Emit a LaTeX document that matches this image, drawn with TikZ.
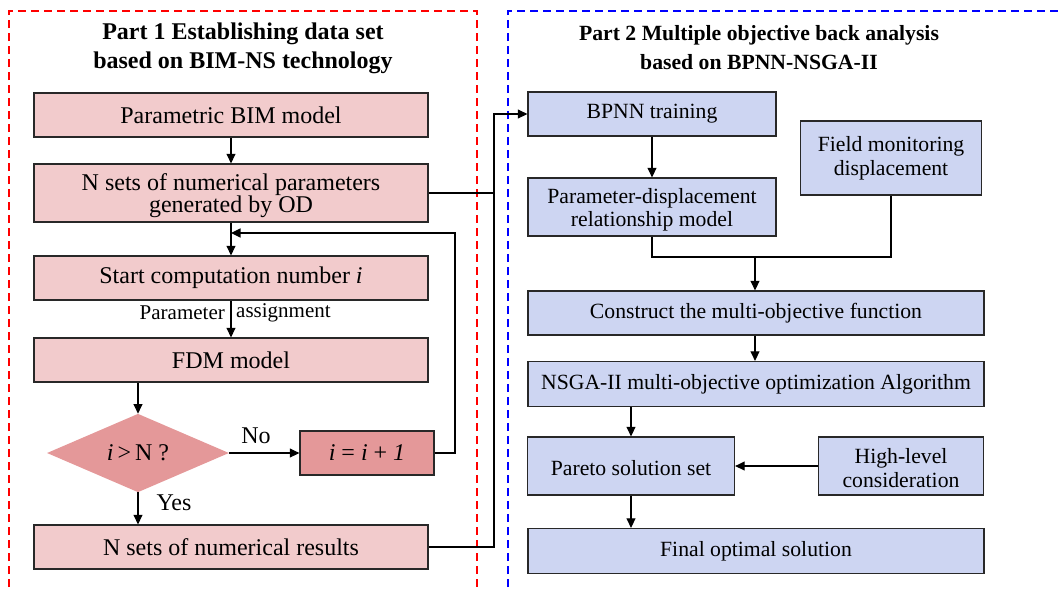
\documentclass[tikz,border=0pt]{standalone}
\usepackage{fontspec}
\setmainfont{Liberation Serif}
\usetikzlibrary{arrows.meta,shapes.geometric}
\definecolor{pinkfill}{RGB}{242,203,204}
\definecolor{darkpink}{RGB}{228,152,153}
\definecolor{bluefill}{RGB}{205,213,242}
\definecolor{edge}{RGB}{40,40,40}
\begin{document}
\begin{tikzpicture}[x=1pt,y=-1pt,
  every node/.style={inner sep=0pt},
  lfont/.style={font=\fontsize{24}{22}\selectfont},
  rfont/.style={font=\fontsize{21.7}{23}\selectfont},
  boxbase/.style={draw=edge, line width=1.3pt, align=center, minimum width=#1},
  pbox/.style={boxbase=#1, fill=pinkfill, lfont},
  dbox/.style={boxbase=#1, fill=darkpink, lfont},
  bbox/.style={boxbase=#1, fill=bluefill, rfont},
  arr/.style={draw=black, line width=1.1pt, -{Triangle[length=9.5pt,width=9pt]}},
  ln/.style={draw=black, line width=1.1pt},
  title/.style={align=center},
  small/.style={font=\fontsize{21}{21}\selectfont}
]
\useasboundingbox (0,0) rectangle (1059,590);
% dashed frames
\draw[red, line width=1.8pt, dash pattern=on 8pt off 5pt] (9,600) -- (9,11) -- (477,11) -- (477,600);
\draw[blue, line width=1.8pt, dash pattern=on 8pt off 5pt] (508,600) -- (508,11) -- (1070,11);
% titles
\node[title, font=\fontsize{24}{29}\selectfont\bfseries] (t1) at (243,48) {Part 1 Establishing data set\\based on BIM-NS technology};
\node[title, font=\fontsize{21.7}{29}\selectfont\bfseries] (t2) at (759,48) {Part 2 Multiple objective back analysis\\based on BPNN-NSGA-II};
% part 1
\node[pbox=394pt, minimum height=44pt] (p1) at (231,115) {Parametric BIM model};
\node[pbox=394pt, minimum height=58pt] (p2) at (231,193) {\rule{0pt}{22pt}N sets of numerical parameters\\generated by OD};
\node[pbox=394pt, minimum height=44pt] (p3) at (231,278) {Start computation number \textit{i}};
\node[pbox=394pt, minimum height=44pt] (p4) at (231,360) {FDM model};
\node[diamond, draw=none, fill=darkpink, minimum width=182pt, minimum height=73pt, lfont] (dia) at (138,453) {\textit{i}\,>\,N ?};
\node[dbox=134pt, minimum height=44pt] (inc) at (367,453) {\textit{i} = \textit{i} + \textit{1}};
\node[pbox=394pt, minimum height=44pt] (p5) at (231,547) {N sets of numerical results};
% part 2
\node[bbox=248pt, minimum height=44pt] (b1) at (652,114) {BPNN training};
\node[bbox=248pt, minimum height=58pt] (b2) at (652,207) {\rule{0pt}{21pt}Parameter-displacement\\relationship model};
\node[bbox=181pt, minimum height=74pt, font=\fontsize{21.7}{24}\selectfont] (fm) at (891,158) {Field monitoring\\displacement};
\node[bbox=456pt, minimum height=44pt] (b3) at (756,313) {Construct the multi-objective function};
\node[bbox=456pt, minimum height=45pt] (b4) at (756,384) {NSGA-II multi-objective optimization Algorithm};
\node[bbox=207pt, minimum height=58pt] (par) at (631,466) {\rule{0pt}{19pt}Pareto solution set};
\node[bbox=165pt, minimum height=58pt, font=\fontsize{21.7}{24}\selectfont] (hl) at (901,466) {\rule{0pt}{19pt}High-level\\consideration};
\node[bbox=456pt, minimum height=45pt] (fin) at (756,551) {Final optimal solution};
% connectors part 1
\draw[arr] (p1) -- (p2);
\draw[arr] (p2) -- (p3);
\coordinate (fbx) at (455,233);
\coordinate (fb) at (231,233);
\draw[arr] (inc.east) -| (fbx) -- (fb);
\draw[arr] (p3) -- (p4);
\node[small, anchor=east] (pa1) at (225,313) {Parameter};
\node[small, anchor=west] (pa2) at (236,313) {assignment};
\draw[arr] (p4.south -| dia.north) -- (dia.north);
\draw[arr] (dia.east) -- (inc.west);
\node[lfont] (no) at (256,436) {No};
\draw[arr] (dia.south) -- (dia.south |- p5.north);
\node[lfont] (yes) at (174,503) {Yes};
% bus to part 2
\coordinate (bus) at (494,114);
\draw[ln] (p2.east) -- (p2.east -| bus);
\draw[arr] (p5.east) -| (bus) -- (b1.west);
% connectors part 2
\draw[arr] (b1) -- (b2);
\coordinate (mj) at (755,257);
\draw[ln] (b2.south) |- (fm.south |- mj) -- (fm.south);
\draw[arr] (mj) -- (mj |- b3.north);
\draw[arr] (b3.south -| mj) -- (b4.north -| mj);
\draw[arr] (b4.south -| par.north) -- (par.north);
\draw[arr] (hl.west) -- (par.east);
\draw[arr] (par.south) -- (par.south |- fin.north);
\end{tikzpicture}
\end{document}
